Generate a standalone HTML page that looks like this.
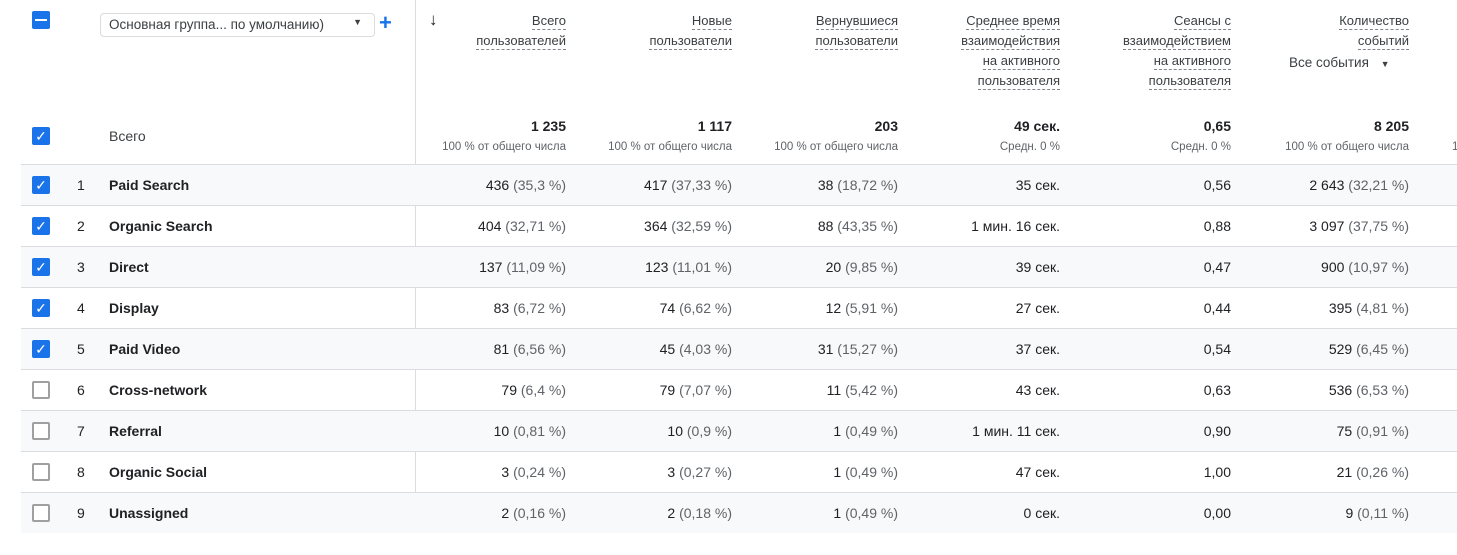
<!DOCTYPE html>
<html><head><meta charset="utf-8"><style>
*{margin:0;padding:0;box-sizing:border-box}
body{width:1457px;height:555px;background:#fff;font-family:"Liberation Sans",Arial,sans-serif;color:#202124;position:relative;overflow:hidden}
.a{position:absolute;white-space:nowrap}
.r{text-align:right}
.hd{font-size:13px;color:#3c4043}
.hd div{height:20px;line-height:16px}
.hd span{border-bottom:1px dashed #80868b;display:inline-block;line-height:16px;vertical-align:top}
.row{position:absolute;left:21px;width:1436px;height:41px;border-top:1px solid #dadce0}
.sh{background:#f8f9fa}
.cb{position:absolute;width:18px;height:18px;border-radius:2px}
.cbon{background:#1a73e8}
.cboff{border:2px solid #a0a0a0;background:#fff}
.cell{position:absolute;font-size:14px;top:12px;white-space:nowrap;text-align:right}
.g{color:#5f6368}
</style></head><body>
<div class="a" style="left:415px;top:0;width:1px;height:532px;background:#dadce0"></div>
<div class="cb cbon" style="left:32px;top:11px"><div style="position:absolute;left:3px;top:8px;width:12px;height:2px;background:#fff"></div></div>
<div class="a" style="left:100px;top:13px;width:275px;height:24px;border:1px solid #dadce0;border-radius:4px;font-size:13.5px;color:#3c4043;padding:3px 0 0 8px">Основная группа... по умолчанию)<span style="position:absolute;right:12px;top:3px;font-size:9px">▼</span></div>
<div class="a" style="left:379px;top:10px;font-size:22px;color:#1a73e8;font-weight:bold">+</div>
<div class="a" style="left:429px;top:10px;font-size:17px;font-weight:bold">↓</div>
<div class="a hd r" style="right:891px;top:13px"><div><span>Всего</span></div><div><span>пользователей</span></div></div>
<div class="a hd r" style="right:725px;top:13px"><div><span>Новые</span></div><div><span>пользователи</span></div></div>
<div class="a hd r" style="right:559px;top:13px"><div><span>Вернувшиеся</span></div><div><span>пользователи</span></div></div>
<div class="a hd r" style="right:397px;top:13px"><div><span>Среднее время</span></div><div><span>взаимодействия</span></div><div><span>на активного</span></div><div><span>пользователя</span></div></div>
<div class="a hd r" style="right:226px;top:13px"><div><span>Сеансы с</span></div><div><span>взаимодействием</span></div><div><span>на активного</span></div><div><span>пользователя</span></div></div>
<div class="a hd r" style="right:48px;top:13px"><div><span>Количество</span></div><div><span>событий</span></div></div>
<div class="a" style="left:1289px;top:55px;font-size:13.5px;color:#3c4043">Все события <span style="font-size:9px;margin-left:8px">▼</span></div>
<div class="cb cbon" style="left:32px;top:127px;color:#fff;font-size:14px;line-height:18px;text-align:center">✓</div>
<div class="a" style="left:109px;top:128px;font-size:14px;color:#3c4043">Всего</div>
<div id="tot"></div>
<div id="rows"></div>
<script>
var R=[566,732,898,1060,1231,1409];
var tot=[["1 235","100 % от общего числа"],["1 117","100 % от общего числа"],["203","100 % от общего числа"],["49 сек.","Средн. 0 %"],["0,65","Средн. 0 %"],["8 205","100 % от общего числа"]];
var h="";
tot.forEach(function(t,i){h+='<div class="a r" style="right:'+(1457-R[i])+'px;top:118px;font-size:14px;font-weight:bold">'+t[0]+'</div><div class="a r g" style="right:'+(1457-R[i])+'px;top:141px;font-size:11.5px">'+t[1]+'</div>';});
h+='<div class="a g" style="left:1452px;top:141px;font-size:11.5px">1</div>';
document.getElementById("tot").innerHTML=h;
var D=[["Paid Search","436","35,3","417","37,33","38","18,72","35 сек.","0,56","2 643","32,21"],
["Organic Search","404","32,71","364","32,59","88","43,35","1 мин. 16 сек.","0,88","3 097","37,75"],
["Direct","137","11,09","123","11,01","20","9,85","39 сек.","0,47","900","10,97"],
["Display","83","6,72","74","6,62","12","5,91","27 сек.","0,44","395","4,81"],
["Paid Video","81","6,56","45","4,03","31","15,27","37 сек.","0,54","529","6,45"],
["Cross-network","79","6,4","79","7,07","11","5,42","43 сек.","0,63","536","6,53"],
["Referral","10","0,81","10","0,9","1","0,49","1 мин. 11 сек.","0,90","75","0,91"],
["Organic Social","3","0,24","3","0,27","1","0,49","47 сек.","1,00","21","0,26"],
["Unassigned","2","0,16","2","0,18","1","0,49","0 сек.","0,00","9","0,11"]];
h="";
D.forEach(function(d,i){
 var top=164+i*41;
 h+='<div class="row'+(i%2==0?' sh':'')+'" style="top:'+top+'px">';
 h+=i<5?'<div class="cb cbon" style="left:11px;top:11px;color:#fff;font-size:14px;line-height:18px;text-align:center">✓</div>':'<div class="cb cboff" style="left:11px;top:11px"></div>';
 h+='<div class="cell" style="left:56px">'+(i+1)+'</div><div class="cell" style="left:88px;font-weight:bold;text-align:left">'+d[0]+'</div>';
 var v=[[d[1],d[2]],[d[3],d[4]],[d[5],d[6]],[d[7]],[d[8]],[d[9],d[10]]];
 v.forEach(function(c,j){h+='<div class="cell" style="right:'+(1457-R[j])+'px">'+c[0]+(c[1]?' <span class="g">('+c[1]+' %)</span>':'')+'</div>';});
 h+='</div>';
});
document.getElementById("rows").innerHTML=h;
</script>
</body></html>
